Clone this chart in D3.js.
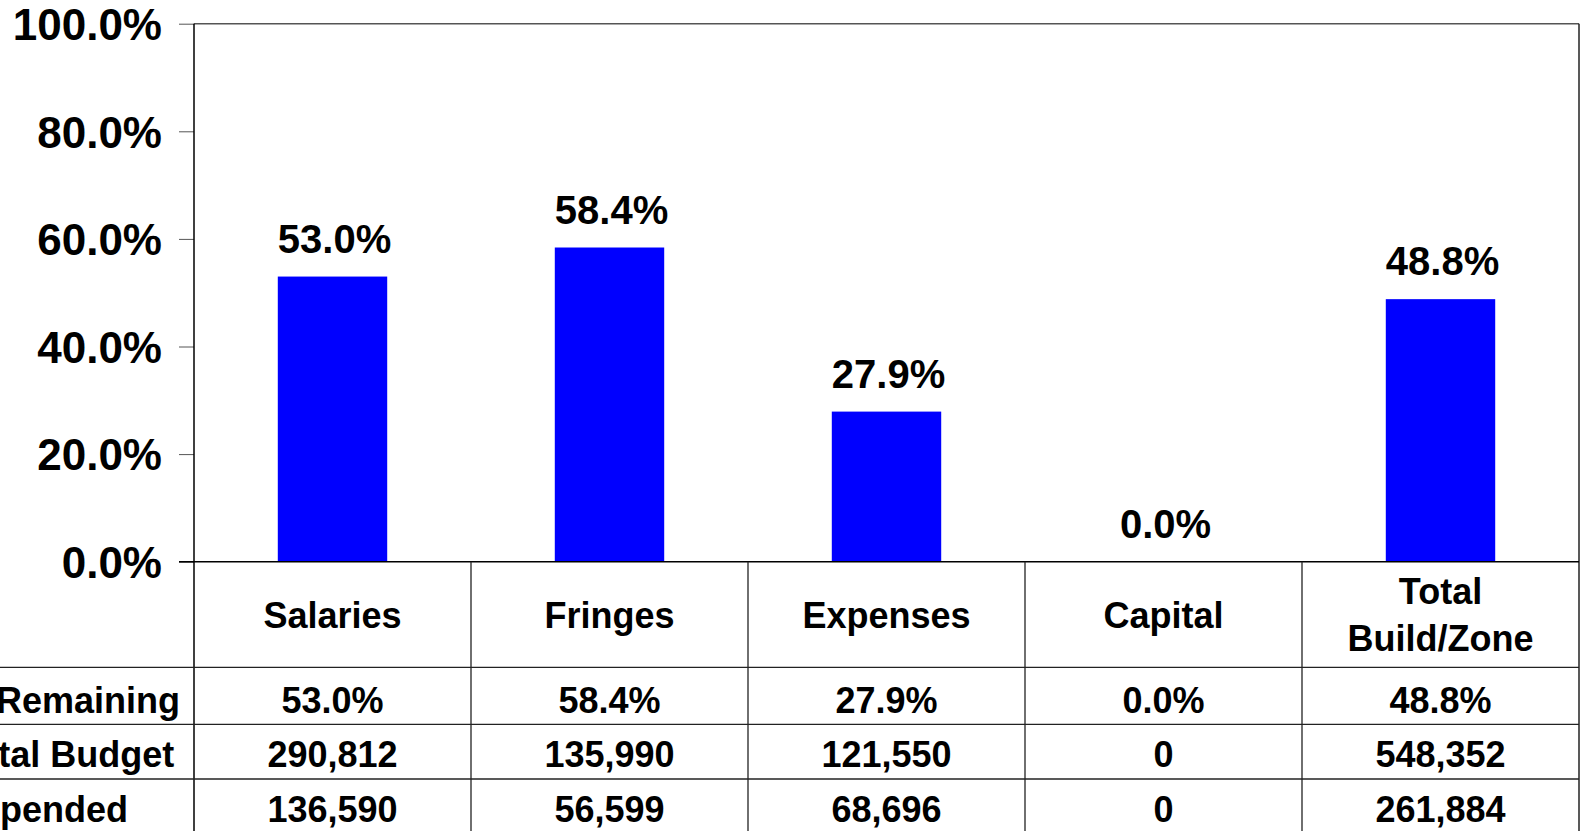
<!DOCTYPE html>
<html>
<head>
<meta charset="utf-8">
<script src="https://cdn.jsdelivr.net/npm/d3@7"></script>
<style>
  html, body { margin: 0; padding: 0; background: #fff; overflow: hidden; }
  svg { display: block; font-family: "Liberation Sans", Arial, sans-serif; font-weight: bold; }
</style>
</head>
<body>
<svg id="chart" width="1585" height="831"></svg>
<script>
// ---- data ----
const categories = ["Salaries", "Fringes", "Expenses", "Capital", "Total Build/Zone"];
const categoryLines = [["Salaries"], ["Fringes"], ["Expenses"], ["Capital"], ["Total", "Build/Zone"]];
const pctRemaining = [0.530, 0.584, 0.279, 0.000, 0.488];
const totalBudget = [290812, 135990, 121550, 0, 548352];
const expended = [136590, 56599, 68696, 0, 261884];
const rowLabels = ["% Remaining", "Total Budget", "Expended"];
const yTicks = [0, 0.2, 0.4, 0.6, 0.8, 1.0];

// ---- layout ----
const W = 1585, H = 831;
const plotLeft = 194, plotRight = 1579, plotTop = 23.7, zeroY = 561.7;
const headerBottom = 667.3;
const rowBounds = [667.3, 724.3, 779];
const rowBaselines = [713.3, 766.7, 821.7];
const rowLabelX = [-46, -43, -44];

const svg = d3.select("#chart");

const x = d3.scaleBand().domain(categories).range([plotLeft, plotRight])
  .paddingInner(0.605).paddingOuter(0.3025).align(0.5);
const step = x.step();
const y = d3.scaleLinear().domain([0, 1]).range([zeroY, plotTop]);

const pct = d3.format(".1%");
const num = d3.format(",");

// bars
svg.append("g").selectAll("rect").data(categories).join("rect")
  .attr("x", d => x(d))
  .attr("width", x.bandwidth())
  .attr("y", (d, i) => y(pctRemaining[i]))
  .attr("height", (d, i) => zeroY - y(pctRemaining[i]))
  .attr("fill", "#0000ff");

// data labels
svg.append("g").selectAll("text").data(categories).join("text")
  .attr("x", d => x(d) + x.bandwidth() / 2 + 2)
  .attr("y", (d, i) => y(pctRemaining[i]) - 24)
  .attr("text-anchor", "middle")
  .attr("font-size", 40)
  .attr("fill", "#000")
  .text((d, i) => pct(pctRemaining[i]));

// y axis
const yAxis = svg.append("g")
  .attr("transform", `translate(${plotLeft},0)`)
  .call(d3.axisLeft(y).tickValues(yTicks).tickFormat(pct).tickSize(15).tickPadding(17));
yAxis.select(".domain").remove();
yAxis.selectAll(".tick line").attr("stroke", "#555").attr("stroke-width", 1);
yAxis.selectAll(".tick text")
  .attr("font-size", 44)
  .attr("font-family", "'Liberation Sans', Arial, sans-serif")
  .attr("font-weight", "bold")
  .attr("fill", "#000")
  .attr("dy", "0.36em");

// frame lines
const lines = svg.append("g").attr("fill", "none");
lines.append("line").attr("x1", plotLeft).attr("x2", plotRight).attr("y1", plotTop).attr("y2", plotTop)
  .attr("stroke", "#555").attr("stroke-width", 1.5);
lines.append("line").attr("x1", plotLeft).attr("x2", plotLeft).attr("y1", plotTop).attr("y2", H)
  .attr("stroke", "#000").attr("stroke-width", 1.5);
lines.append("line").attr("x1", plotRight).attr("x2", plotRight).attr("y1", plotTop).attr("y2", H)
  .attr("stroke", "#222").attr("stroke-width", 1.5);
lines.append("line").attr("x1", plotLeft - 15).attr("x2", plotRight).attr("y1", zeroY).attr("y2", zeroY)
  .attr("stroke", "#000").attr("stroke-width", 1.5);
const seps = categories.slice(1).map(d => x(d) - step * x.paddingInner() / 2);
lines.selectAll("line.sep").data(seps).join("line").attr("class", "sep")
  .attr("x1", d => d).attr("x2", d => d).attr("y1", zeroY).attr("y2", H)
  .attr("stroke", "#222").attr("stroke-width", 1.3);
lines.selectAll("line.row").data(rowBounds).join("line").attr("class", "row")
  .attr("x1", 0).attr("x2", plotRight).attr("y1", d => d).attr("y2", d => d)
  .attr("stroke", "#222").attr("stroke-width", 1.3);

// header labels
const hdr = svg.append("g").selectAll("text").data(categories).join("text")
  .attr("text-anchor", "middle")
  .attr("font-size", 36)
  .attr("fill", "#000");
hdr.each(function(d, i) {
  const t = d3.select(this);
  const ls = categoryLines[i];
  const cx = x(d) + x.bandwidth() / 2;
  const lh = 46.7;
  const base = (zeroY + headerBottom) / 2 + 13 - (ls.length - 1) * lh / 2;
  ls.forEach((s, j) => {
    t.append("tspan").attr("x", cx).attr("y", base + j * lh).text(s);
  });
});

// table rows
const rowsData = [
  pctRemaining.map(pct),
  totalBudget.map(num),
  expended.map(num)
];
rowsData.forEach((vals, r) => {
  svg.append("g").selectAll("text").data(vals).join("text")
    .attr("x", (d, i) => x(categories[i]) + x.bandwidth() / 2)
    .attr("y", rowBaselines[r])
    .attr("text-anchor", "middle")
    .attr("font-size", 36)
    .attr("fill", "#000")
    .text(d => d);
  svg.append("text")
    .attr("x", rowLabelX[r])
    .attr("y", rowBaselines[r])
    .attr("text-anchor", "start")
    .attr("font-size", 36)
    .attr("fill", "#000")
    .text(rowLabels[r]);
});
</script>
</body>
</html>
